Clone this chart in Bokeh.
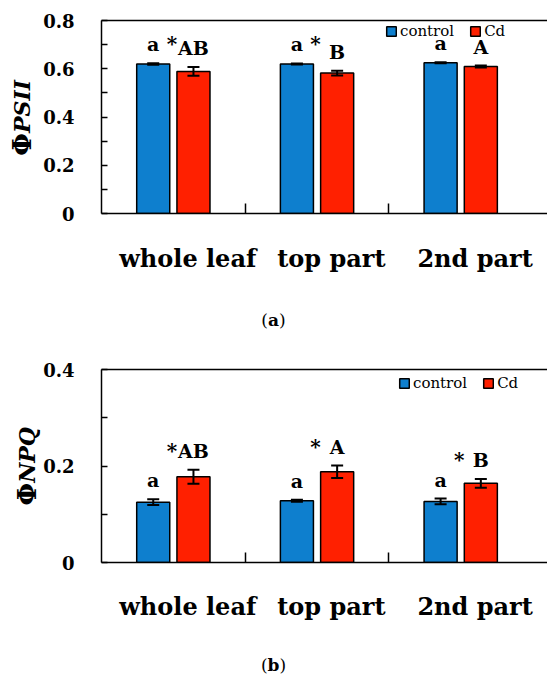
import numpy as np
from bokeh.plotting import figure
from bokeh.models import (Range1d, FixedTicker, CustomJSTickFormatter, LinearAxis, Whisker,
                          TeeHead, ColumnDataSource, Legend, LegendItem, Div)
from bokeh.layouts import column, row
from bokeh.core.properties import value
from bokeh.embed import file_html
from bokeh.resources import INLINE

# ---------------- data ----------------
categories = ["whole leaf", "top part", "2nd part"]
series_names = ["control", "Cd"]

psii_control = [0.620, 0.620, 0.625]
psii_control_err = [0.003, 0.002, 0.002]
psii_cd = [0.589, 0.582, 0.609]
psii_cd_err = [0.018, 0.010, 0.004]
psii_control_letters = ["a", "a", "a"]
psii_cd_letters = ["AB", "B", "A"]
psii_sig = ["*", "*", ""]
psii_ticks = [0, 0.2, 0.4, 0.6, 0.8]
psii_tick_labels = ["0", "0.2", "0.4", "0.6", "0.8"]
psii_minor = [0.1, 0.3, 0.5, 0.7]

npq_control = [0.125, 0.128, 0.1265]
npq_control_err = [0.006, 0.002, 0.006]
npq_cd = [0.1775, 0.188, 0.164]
npq_cd_err = [0.0145, 0.013, 0.009]
npq_control_letters = ["a", "a", "a"]
npq_cd_letters = ["AB", "A", "B"]
npq_sig = ["*", "*", "*"]
npq_ticks = [0, 0.2, 0.4]
npq_tick_labels = ["0", "0.2", "0.4"]
npq_minor = [0.1, 0.3]

# ---------------- style ----------------
FONT = "DejaVu Serif"
BLUE = "#0e7fce"
RED = "#ff2000"
W = 547
LABW = 40


def make_panel(ctrl, ctrl_err, cd, cd_err, ctrl_lab, cd_lab, sig, ticks, tick_labels, minor,
               height, top, bottom, legend_loc, xstandoff):
    ymax = ticks[-1]
    p = figure(width=W - LABW, height=height, x_range=Range1d(0, 3.104), y_range=Range1d(0, ymax),
               x_axis_type=None, y_axis_type=None, output_backend="svg", toolbar_location=None,
               min_border_left=100 - LABW, min_border_right=0, min_border_top=top,
               min_border_bottom=bottom, margin=0)
    p.outline_line_color = None
    p.background_fill_color = "white"
    p.border_fill_color = "white"

    n = len(categories)
    xs = np.arange(n) + 0.5
    ctrl = np.array(ctrl); cd = np.array(cd)
    ce = np.array(ctrl_err); de = np.array(cd_err)
    src = ColumnDataSource(dict(
        xc=xs - 0.14, xd=xs + 0.14, xs=xs - 0.01,
        ctrl=ctrl, cd=cd,
        cu=ctrl + ce, cl=ctrl - ce, du=cd + de, dl=cd - de,
        top=np.maximum(ctrl + ce, cd + de),
        clab=ctrl_lab, dlab=cd_lab, sig=sig,
    ))

    rc = p.vbar(x="xc", top="ctrl", width=0.23, source=src, fill_color=BLUE,
                line_color="black", line_width=1.5)
    rd = p.vbar(x="xd", top="cd", width=0.23, source=src, fill_color=RED,
                line_color="black", line_width=1.5)

    for base, up, lo in (("xc", "cu", "cl"), ("xd", "du", "dl")):
        wk = Whisker(base=base, upper=up, lower=lo, source=src, line_width=2, line_color="black",
                     upper_head=TeeHead(size=12, line_width=2, line_color="black"),
                     lower_head=TeeHead(size=12, line_width=2, line_color="black"),
                     level="annotation")
        p.add_layout(wk)

    txt = dict(text_font=value(FONT), text_font_style="bold", text_font_size="19px",
               text_align="center", text_baseline="alphabetic", text_color="black", y_offset=-19)
    p.text(x="xc", y="cu", text="clab", source=src, **txt)
    p.text(x="xd", y="du", text="dlab", source=src, **txt)
    p.text(x="xs", y="top", text="sig", source=src, **dict(txt, y_offset=-19, text_font_size="20px"))

    # axes
    yaxis = LinearAxis(
        ticker=FixedTicker(ticks=ticks, minor_ticks=minor),
        formatter=CustomJSTickFormatter(args=dict(tvals=ticks, tlabels=tick_labels),
            code="const i = tvals.findIndex(t => Math.abs(t - tick) < 1e-9); return i >= 0 ? tlabels[i] : '';"),
        major_tick_in=6, major_tick_out=0, minor_tick_in=6, minor_tick_out=0,
        major_tick_line_width=1.5, minor_tick_line_width=1.5,
        major_tick_line_color="black", minor_tick_line_color="black",
        axis_line_width=1.5, axis_line_color="black",
        major_label_standoff=27, major_label_text_font=FONT, major_label_text_font_style="bold",
        major_label_text_font_size="18px", major_label_text_color="black")
    p.add_layout(yaxis, "left")

    xaxis = LinearAxis(
        ticker=FixedTicker(ticks=list(xs + 0.1), minor_ticks=list(range(1, n))),
        formatter=CustomJSTickFormatter(args=dict(cats=categories),
            code="const i = Math.floor(tick); return (i >= 0 && i < cats.length) ? cats[i] : '';"),
        major_tick_in=0, major_tick_out=0, major_tick_line_color=None,
        minor_tick_in=10, minor_tick_out=0, minor_tick_line_width=1.5, minor_tick_line_color="black",
        axis_line_width=1.5, axis_line_color="black",
        major_label_standoff=xstandoff, major_label_text_font=FONT, major_label_text_font_style="bold",
        major_label_text_font_size="24px", major_label_text_color="black")
    p.add_layout(xaxis, "below")

    topaxis = LinearAxis(ticker=FixedTicker(ticks=[]), major_tick_line_color=None,
                         minor_tick_line_color=None, axis_line_width=1.5, axis_line_color="black",
                         major_label_standoff=0)
    p.add_layout(topaxis, "above")

    legend = Legend(items=[LegendItem(label=series_names[0], renderers=[rc]),
                           LegendItem(label=series_names[1], renderers=[rd])],
                    location=legend_loc, orientation="horizontal",
                    background_fill_alpha=0, border_line_color=None, padding=0, margin=0,
                    spacing=15, glyph_width=12, glyph_height=12, label_standoff=3,
                    label_text_font=FONT, label_text_font_size="15px", label_text_color="black")
    p.add_layout(legend)
    return p


def ylabel_div(sub, height, top, left):
    html = ('<div style="position:relative;width:%dpx;height:%dpx;">'
            '<span style="position:absolute;left:%dpx;top:%dpx;writing-mode:vertical-rl;'
            'transform:rotate(180deg);font-family:\'DejaVu Serif\';font-weight:bold;'
            'font-size:22px;line-height:28px;white-space:nowrap;color:black;">'
            '<span style="font-size:26px;">Φ</span><i>%s</i></span></div>'
            % (LABW, height, left, top, sub))
    return Div(text=html, width=LABW, height=height, margin=0)


p1 = make_panel(psii_control, psii_control_err, psii_cd, psii_cd_err, psii_control_letters,
                psii_cd_letters, psii_sig, psii_ticks, psii_tick_labels, psii_minor,
                height=298, top=20, bottom=85, legend_loc=(284, 173), xstandoff=30)
p2 = make_panel(npq_control, npq_control_err, npq_cd, npq_cd_err, npq_control_letters,
                npq_cd_letters, npq_sig, npq_ticks, npq_tick_labels, npq_minor,
                height=300, top=28, bottom=79, legend_loc=(297, 170), xstandoff=29)

y1 = ylabel_div("PSII", 298, 80, 8)
y2 = ylabel_div("NPQ", 300, 86, 13)

cap_style = ("text-align:center;font-family:'DejaVu Serif';font-size:17px;line-height:20px;"
             "color:black;width:%dpx;" % W)
div_a = Div(text='<div style="%spadding-top:12px">(<b>a</b>)</div>' % cap_style, width=W, height=43,
            margin=0)
div_b = Div(text='<div style="%spadding-top:14px">(<b>b</b>)</div>' % cap_style, width=W, height=35,
            margin=0)

layout = column(row(y1, p1, spacing=0, margin=0), div_a, row(y2, p2, spacing=0, margin=0), div_b,
                spacing=0, margin=0)

open("out.html", "w").write(file_html(layout, INLINE))
